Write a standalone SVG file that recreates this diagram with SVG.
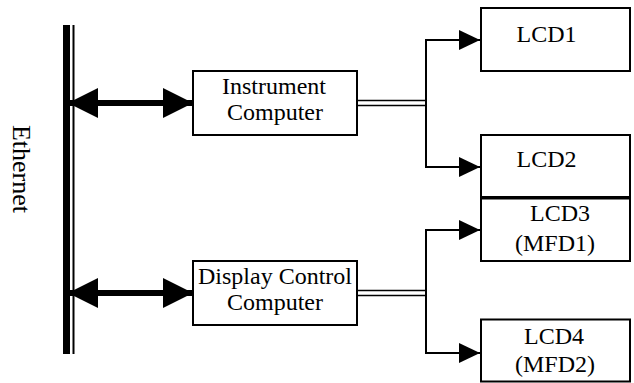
<svg xmlns="http://www.w3.org/2000/svg" width="634" height="383" viewBox="0 0 634 383">
  <style>
    .box { fill: #fff; stroke: #000; stroke-width: 2; }
    .lbl { font-family: "Liberation Serif", "Times New Roman", serif; font-size: 24px; fill: #000; text-anchor: middle; }
    .wire { fill: none; stroke: #000; stroke-width: 2; }
    .dbl { fill: none; stroke: #000; stroke-width: 1.5; }
    .bus2 { fill: none; stroke: #000; stroke-width: 6; }
  </style>
  <defs>
    <marker id="head" viewBox="0 0 21 20" refX="21" refY="10" markerWidth="21" markerHeight="20" markerUnits="userSpaceOnUse" orient="auto-start-reverse">
      <path d="M0,0 L21,10 L0,20 Z" fill="#000"/>
    </marker>
    <marker id="bighead" viewBox="0 0 30 30" refX="30" refY="15" markerWidth="30" markerHeight="30" markerUnits="userSpaceOnUse" orient="auto-start-reverse">
      <path d="M0,0 L30,15 L0,30 Z" fill="#000"/>
    </marker>
  </defs>

  <!-- Ethernet bus -->
  <g id="ethernet">
    <rect x="63" y="25" width="7" height="329" fill="#000"/>
    <rect x="72.5" y="25" width="2" height="329" fill="#000"/>
    <text class="lbl" transform="translate(13,169) rotate(90)" style="font-size:26px">Ethernet</text>
  </g>

  <!-- connectors -->
  <g id="connectors">
    <!-- bus to computers (bidirectional) -->
    <path class="bus2" d="M68,103 L193,103" marker-start="url(#bighead)" marker-end="url(#bighead)"/>
    <path class="bus2" d="M68,293 L193,293" marker-start="url(#bighead)" marker-end="url(#bighead)"/>
    <!-- double links from computers -->
    <path class="dbl" d="M357,100.5 H426 M357,105.5 H426"/>
    <path class="dbl" d="M357,290.5 H426 M357,295.5 H426"/>
    <!-- fan-out to displays -->
    <path class="wire" d="M480,40 H426 V167 H480" marker-start="url(#head)" marker-end="url(#head)"/>
    <path class="wire" d="M480,230 H426 V353 H480" marker-start="url(#head)" marker-end="url(#head)"/>
  </g>

  <g id="instrument-computer">
    <rect class="box" x="193" y="71" width="164" height="64"/>
    <text class="lbl" x="274" y="94">Instrument</text>
    <text class="lbl" x="275" y="119.5">Computer</text>
  </g>

  <g id="display-control-computer">
    <rect class="box" x="193" y="261" width="164" height="64"/>
    <text class="lbl" x="275" y="284">Display Control</text>
    <text class="lbl" x="275" y="309.5">Computer</text>
  </g>

  <g id="lcd1">
    <rect class="box" x="481" y="8" width="149" height="63"/>
    <text class="lbl" x="546.5" y="42">LCD1</text>
  </g>

  <g id="lcd2">
    <rect class="box" x="481" y="135" width="149" height="62"/>
    <text class="lbl" x="546.5" y="167">LCD2</text>
  </g>

  <g id="lcd3">
    <rect class="box" x="481" y="198.5" width="149" height="62.5"/>
    <text class="lbl" x="560" y="221">LCD3</text>
    <text class="lbl" x="555" y="251">(MFD1)</text>
  </g>

  <g id="lcd4">
    <rect class="box" x="481" y="319.5" width="149" height="62"/>
    <text class="lbl" x="554" y="343.5">LCD4</text>
    <text class="lbl" x="555" y="372">(MFD2)</text>
  </g>
</svg>
